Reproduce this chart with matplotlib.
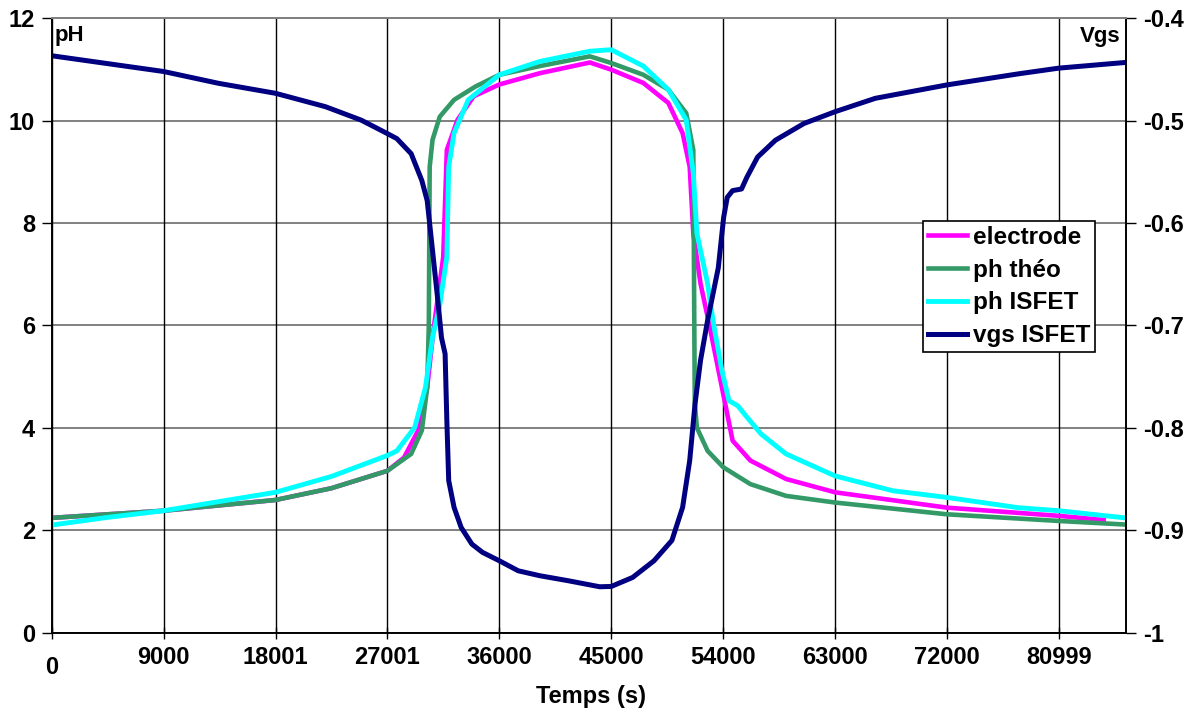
import matplotlib
matplotlib.use("Agg")
import matplotlib.pyplot as plt
import matplotlib.transforms as mtransforms

plt.rcParams['font.family'] = ['Liberation Sans', 'DejaVu Sans']
plt.rcParams['font.weight'] = 'bold'

# time (s) / values
elec_t = [0, 4500, 9000, 18000, 22500, 27000, 28340, 29480, 30200, 30700, 31490, 31780, 32640, 33940,
          36000, 39250, 43280, 45000, 47580, 49590, 50740, 51310, 51600, 52180, 52900, 53900, 54760,
          56190, 59060, 63000, 72000, 81000, 84600]
elec_ph = [2.24, 2.31, 2.38, 2.59, 2.82, 3.16, 3.42, 3.95, 4.79, 5.9, 7.34, 9.43, 10.02, 10.48,
           10.71, 10.93, 11.14, 11.0, 10.74, 10.35, 9.76, 9.1, 7.8, 6.82, 6.0, 4.79, 3.75,
           3.36, 3.0, 2.74, 2.44, 2.28, 2.20]

theo_t = [0, 9000, 18000, 22500, 27000, 28910, 29770, 30200, 30330, 30400, 30630, 31210, 32360, 34080,
          36000, 39250, 43280, 45000, 47580, 49590, 51030, 51600, 51680, 51720, 51890, 52750, 54010,
          56190, 59060, 63000, 72000, 81000, 86330]
theo_ph = [2.24, 2.38, 2.59, 2.82, 3.16, 3.49, 3.95, 4.79, 6.0, 9.1, 9.63, 10.08, 10.41, 10.67,
           10.9, 11.07, 11.26, 11.13, 10.9, 10.61, 10.15, 9.43, 6.0, 4.47, 4.0, 3.55, 3.23,
           2.90, 2.67, 2.54, 2.31, 2.18, 2.11]

isfet_t = [0, 4500, 9000, 18000, 22500, 27000, 27760, 29200, 30060, 30630, 31210, 31780, 31930, 32360,
           33500, 36000, 39250, 43270, 45000, 47580, 49590, 51030, 51600, 51890, 52750, 53180, 53900,
           54470, 55180, 55910, 57050, 59060, 63000, 67650, 72000, 77710, 81000, 86330]
isfet_ph = [2.10, 2.25, 2.38, 2.74, 3.05, 3.46, 3.55, 4.01, 4.79, 5.77, 6.4, 7.34, 9.1, 9.76,
            10.41, 10.9, 11.16, 11.36, 11.39, 11.07, 10.61, 10.02, 8.97, 7.8, 6.82, 6.1, 5.12,
            4.53, 4.43, 4.21, 3.88, 3.49, 3.06, 2.77, 2.64, 2.44, 2.38, 2.24]

vgs_t = [0, 9000, 13400, 18000, 22020, 24890, 27000, 27760, 28910, 29770, 30200, 30630, 31060, 31350,
         31640, 31780, 31930, 32360, 32930, 33790, 34650, 36000, 37520, 39250, 41540, 44070, 45000,
         46720, 48440, 49880, 50740, 51310, 51740, 52180, 52750, 53610, 54040, 54330, 54760, 55480,
         55910, 56770, 58200, 60500, 63000, 66240, 72000, 77740, 81000, 86320]
vgs_v = [-0.4364, -0.4518, -0.4633, -0.4731, -0.4862, -0.4993, -0.5125, -0.5174, -0.5321, -0.5584,
         -0.578, -0.627, -0.676, -0.712, -0.7277, -0.793, -0.8516, -0.8777, -0.8973, -0.9136, -0.9217,
         -0.9299, -0.9397, -0.9445, -0.9494, -0.9553, -0.955, -0.9462, -0.9299, -0.910, -0.8777,
         -0.832, -0.7766, -0.7342, -0.695, -0.6436, -0.5944, -0.5748, -0.5682, -0.5666, -0.5551,
         -0.5354, -0.519, -0.5026, -0.4911, -0.478, -0.4649, -0.4541, -0.4485, -0.443]

x_ticks = [0, 9000, 18001, 27001, 36000, 45000, 54000, 63000, 72000, 80999]
ph_ticks = [0, 2, 4, 6, 8, 10, 12]
vgs_ticks = [-1, -0.9, -0.8, -0.7, -0.6, -0.5, -0.4]
vgs_labels = ['-1', '-0.9', '-0.8', '-0.7', '-0.6', '-0.5', '-0.4']

fig = plt.figure(figsize=(11.96, 7.11), dpi=100)
ax = fig.add_axes([0.0432, 0.1104, 0.8983, 0.8636])
ax2 = ax.twinx()

ax.set_xlim(0, 86400)
ax.set_ylim(0, 12)
ax2.set_ylim(-1, -0.4)

# grid
for y in ph_ticks:
    ax.axhline(y, color='#808080', lw=1.4, zorder=0)
for x in x_ticks:
    ax.axvline(x, color='black', lw=1.0, zorder=0)

l1, = ax.plot(elec_t, elec_ph, color='#FF00FF', lw=3.3, label='electrode')
l2, = ax.plot(theo_t, theo_ph, color='#339966', lw=3.3, label='ph théo')
l3, = ax.plot(isfet_t, isfet_ph, color='#00FFFF', lw=3.5, label='ph ISFET')
l4, = ax2.plot(vgs_t, vgs_v, color='#000080', lw=3.6, label='vgs ISFET')

ax.set_xticks(x_ticks)
ax.set_xticklabels([str(v) for v in x_ticks])
ax.set_yticks(ph_ticks)
ax2.set_yticks(vgs_ticks)
ax2.set_yticklabels(vgs_labels)

ax.tick_params(axis='x', direction='inout', length=8, width=1, labelsize=17, pad=6)
ax.tick_params(axis='y', direction='out', length=7, width=1, labelsize=17, pad=5)
ax2.tick_params(axis='y', direction='out', length=7, width=1, labelsize=17, pad=5)

# the "0" label sits a bit lower
lab0 = ax.get_xticklabels()[0]
lab0.set_transform(lab0.get_transform() + mtransforms.ScaledTranslation(0, -7 / 72, fig.dpi_scale_trans))

for a in (ax, ax2):
    a.spines['top'].set_color('#808080')
    a.spines['top'].set_linewidth(1.4)
    for s in ('left', 'right', 'bottom'):
        a.spines[s].set_linewidth(1.2)

ax.text(0.003, 0.99, 'pH', transform=ax.transAxes, ha='left', va='top', fontsize=16, fontweight='bold')
ax.text(0.995, 0.987, 'Vgs', transform=ax.transAxes, ha='right', va='top', fontsize=16, fontweight='bold')
fig.text(0.494, 0.021, 'Temps (s)', ha='center', va='center', fontsize=17, fontweight='bold')

leg = ax2.legend(handles=[l1, l2, l3, l4], loc='upper right', bbox_to_anchor=(0.9155, 0.689),
                 bbox_transform=fig.transFigure, borderaxespad=0, fancybox=False, framealpha=1,
                 edgecolor='black', fontsize=17.5, handlelength=1.6, handletextpad=0.25,
                 labelspacing=0.4, borderpad=0.2)
leg.get_frame().set_linewidth(1.2)

fig.savefig('out.png', dpi=100)
